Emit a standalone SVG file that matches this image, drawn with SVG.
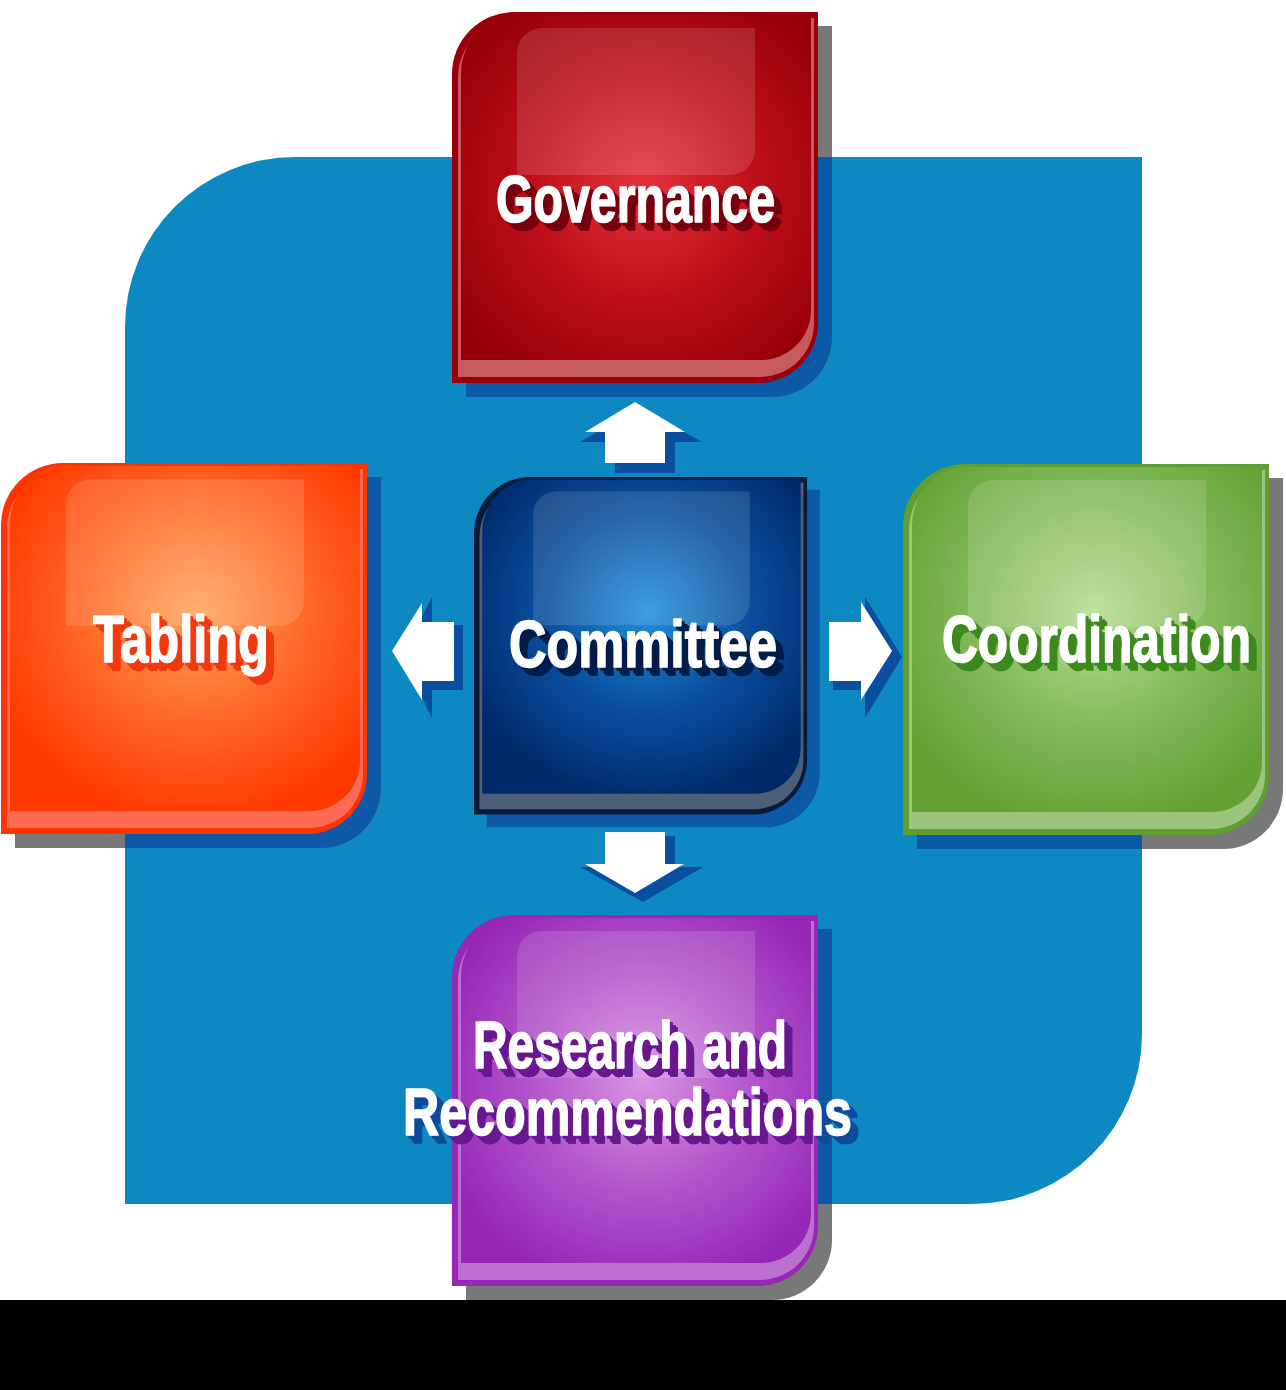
<svg xmlns="http://www.w3.org/2000/svg" xmlns:xlink="http://www.w3.org/1999/xlink" width="1286" height="1390" viewBox="0 0 1286 1390">
<style>
  .lbl { font-family: "Liberation Sans", Arial, sans-serif; font-weight: bold; font-size: 66px; fill: #ffffff; stroke: #ffffff; stroke-width: 1.6px; stroke-linejoin: round; }
  .shGray { fill: #787878; }
  .shBlue { fill: #0b59a7; }
  .hl { fill: #ffffff; fill-opacity: 0.13; }
  .arrow { fill: #ffffff; }
  .arrowSh { fill: #0a4e9f; }
</style>
<defs>
  <path id="boxOuter" d="M62,0 H366 V311 A60,60 0 0 1 306,371 H0 V62 A62,62 0 0 1 62,0 Z"/>
  <path id="boxBand" d="M66,6 H362 V313 A54,54 0 0 1 308,365 H6 V66 A60,60 0 0 1 66,6 Z"/>
  <path id="boxFace" d="M62,3 H359 V298 A50,50 0 0 1 309,348 H9 V62 A53,59 0 0 1 62,3 Z"/>
  <path id="boxHl" d="M90,16 H303 V138 A25,25 0 0 1 278,163 H65 V41 A25,25 0 0 1 90,16 Z"/>
  <clipPath id="bgClip">
    <path d="M295,157 H1142 V1034 A170,170 0 0 1 972,1204 H125 V327 A170,170 0 0 1 295,157 Z"/>
  </clipPath>
  <clipPath id="resClip">
    <path transform="translate(452,915)" d="M62,0 H366 V311 A60,60 0 0 1 306,371 H0 V62 A62,62 0 0 1 62,0 Z"/>
  </clipPath>
  <radialGradient id="gRed" cx="0.52" cy="0.5" r="0.62">
    <stop offset="0" stop-color="#e3323c"/>
    <stop offset="0.5" stop-color="#c0101a"/>
    <stop offset="1" stop-color="#980008"/>
  </radialGradient>
  <radialGradient id="gBlue" cx="0.52" cy="0.42" r="0.62">
    <stop offset="0" stop-color="#2090d8"/>
    <stop offset="0.5" stop-color="#0a4fa0"/>
    <stop offset="1" stop-color="#00296a"/>
  </radialGradient>
  <radialGradient id="gOrange" cx="0.53" cy="0.42" r="0.62">
    <stop offset="0" stop-color="#ffa45e"/>
    <stop offset="0.5" stop-color="#ff6a28"/>
    <stop offset="1" stop-color="#ff3800"/>
  </radialGradient>
  <radialGradient id="gGreen" cx="0.52" cy="0.42" r="0.62">
    <stop offset="0" stop-color="#b6dc92"/>
    <stop offset="0.5" stop-color="#88bc5e"/>
    <stop offset="1" stop-color="#64a236"/>
  </radialGradient>
  <radialGradient id="gPurple" cx="0.52" cy="0.47" r="0.62">
    <stop offset="0" stop-color="#d894e2"/>
    <stop offset="0.5" stop-color="#b456cc"/>
    <stop offset="1" stop-color="#9626b6"/>
  </radialGradient>
  <filter id="tsRed" x="-10%" y="-20%" width="130%" height="160%">
    <feOffset in="SourceAlpha" dx="3" dy="3" result="o1"/>
    <feOffset in="SourceAlpha" dx="5.5" dy="5.5" result="o2"/>
    <feOffset in="SourceAlpha" dx="8" dy="8" result="o3"/>
    <feMerge result="m"><feMergeNode in="o1"/><feMergeNode in="o2"/><feMergeNode in="o3"/></feMerge>
    <feFlood flood-color="#760008"/>
    <feComposite operator="in" in2="m"/>
  </filter>
  <filter id="tsBlue" x="-10%" y="-20%" width="130%" height="160%">
    <feOffset in="SourceAlpha" dx="3" dy="3" result="o1"/>
    <feOffset in="SourceAlpha" dx="5.5" dy="5.5" result="o2"/>
    <feOffset in="SourceAlpha" dx="8" dy="8" result="o3"/>
    <feMerge result="m"><feMergeNode in="o1"/><feMergeNode in="o2"/><feMergeNode in="o3"/></feMerge>
    <feFlood flood-color="#001a48"/>
    <feComposite operator="in" in2="m"/>
  </filter>
  <filter id="tsOrange" x="-10%" y="-20%" width="130%" height="160%">
    <feOffset in="SourceAlpha" dx="3" dy="3" result="o1"/>
    <feOffset in="SourceAlpha" dx="5.5" dy="5.5" result="o2"/>
    <feOffset in="SourceAlpha" dx="8" dy="8" result="o3"/>
    <feMerge result="m"><feMergeNode in="o1"/><feMergeNode in="o2"/><feMergeNode in="o3"/></feMerge>
    <feFlood flood-color="#f2380e"/>
    <feComposite operator="in" in2="m"/>
  </filter>
  <filter id="tsGreen" x="-10%" y="-20%" width="130%" height="160%">
    <feOffset in="SourceAlpha" dx="3" dy="3" result="o1"/>
    <feOffset in="SourceAlpha" dx="5.5" dy="5.5" result="o2"/>
    <feOffset in="SourceAlpha" dx="8" dy="8" result="o3"/>
    <feMerge result="m"><feMergeNode in="o1"/><feMergeNode in="o2"/><feMergeNode in="o3"/></feMerge>
    <feFlood flood-color="#3c8a1c"/>
    <feComposite operator="in" in2="m"/>
  </filter>
  <filter id="tsPurple" x="-10%" y="-20%" width="130%" height="160%">
    <feOffset in="SourceAlpha" dx="3" dy="3" result="o1"/>
    <feOffset in="SourceAlpha" dx="5.5" dy="5.5" result="o2"/>
    <feOffset in="SourceAlpha" dx="8" dy="8" result="o3"/>
    <feMerge result="m"><feMergeNode in="o1"/><feMergeNode in="o2"/><feMergeNode in="o3"/></feMerge>
    <feFlood flood-color="#6a1690"/>
    <feComposite operator="in" in2="m"/>
  </filter>
  <filter id="tsNavy" x="-10%" y="-20%" width="130%" height="160%">
    <feOffset in="SourceAlpha" dx="3" dy="3" result="o1"/>
    <feOffset in="SourceAlpha" dx="5.5" dy="5.5" result="o2"/>
    <feOffset in="SourceAlpha" dx="8" dy="8" result="o3"/>
    <feMerge result="m"><feMergeNode in="o1"/><feMergeNode in="o2"/><feMergeNode in="o3"/></feMerge>
    <feFlood flood-color="#0a4a9c"/>
    <feComposite operator="in" in2="m"/>
  </filter>
</defs>

<rect x="0" y="0" width="1286" height="1390" fill="#ffffff"/>

<!-- background panel -->
<path id="background" d="M295,157 H1142 V1034 A170,170 0 0 1 972,1204 H125 V327 A170,170 0 0 1 295,157 Z" fill="#0e88c0"/>

<!-- connectors -->
<g id="connectors">
  <polygon class="arrowSh" points="640,407 702,442 675,442 675,473 615,473 615,442 580,442"/>
  <polygon class="arrow" points="635,402 685,432 665,432 665,463 605,463 605,432 585,432"/>
  <polygon class="arrowSh" points="615,836 675,836 675,867 703,867 643,902 580,867 615,867"/>
  <polygon class="arrow" points="605,832 665,832 665,864 684,864 635,893 585,864 605,864"/>
  <polygon class="arrowSh" points="402,657 432,597 432,625 463,625 463,690 432,690 432,718"/>
  <polygon class="arrow" points="392,651 422,603 422,622 454,622 454,681 422,681 422,700"/>
  <polygon class="arrowSh" points="833,631 865,631 865,597 902,657 865,718 865,690 833,690"/>
  <polygon class="arrow" points="829,622 861,622 861,602 892,651 861,700 861,681 829,681"/>
</g>

<!-- Governance -->
<g id="node-governance">
  <use href="#boxOuter" class="shGray" transform="translate(466,26)"/>
  <g clip-path="url(#bgClip)"><use href="#boxOuter" class="shBlue" transform="translate(466,26)"/></g>
  <g transform="translate(452,12)">
    <use href="#boxOuter" fill="#9b000a"/>
    <use href="#boxBand" fill="#c65a5e"/>
    <use href="#boxFace" fill="url(#gRed)"/>
    <use href="#boxHl" class="hl"/>
  </g>
  <use href="#t-gov" filter="url(#tsRed)"/>
  <text id="t-gov" class="lbl" x="496" y="222" textLength="279" lengthAdjust="spacingAndGlyphs">Governance</text>
</g>

<!-- Tabling -->
<g id="node-tabling">
  <use href="#boxOuter" class="shGray" transform="translate(15,477)"/>
  <g clip-path="url(#bgClip)"><use href="#boxOuter" class="shBlue" transform="translate(15,477)"/></g>
  <g transform="translate(1,463)">
    <use href="#boxOuter" fill="#ff3300"/>
    <use href="#boxBand" fill="#ff6c56"/>
    <use href="#boxFace" fill="url(#gOrange)"/>
    <use href="#boxHl" class="hl"/>
  </g>
  <use href="#t-tab" filter="url(#tsOrange)"/>
  <text id="t-tab" class="lbl" x="93" y="662" textLength="176" lengthAdjust="spacingAndGlyphs">Tabling</text>
</g>

<!-- Coordination -->
<g id="node-coordination">
  <use href="#boxOuter" class="shGray" transform="translate(917,478)"/>
  <g clip-path="url(#bgClip)"><use href="#boxOuter" class="shBlue" transform="translate(917,478)"/></g>
  <g transform="translate(903,464)">
    <use href="#boxOuter" fill="#5f9e30"/>
    <use href="#boxBand" fill="#9cc47c"/>
    <use href="#boxFace" fill="url(#gGreen)"/>
    <use href="#boxHl" class="hl"/>
  </g>
  <use href="#t-coo" filter="url(#tsGreen)"/>
  <text id="t-coo" class="lbl" x="942" y="662" textLength="309" lengthAdjust="spacingAndGlyphs">Coordination</text>
</g>

<!-- Committee -->
<g id="node-committee">
  <g clip-path="url(#bgClip)"><use href="#boxOuter" class="shBlue" transform="translate(474,477) scale(0.91) translate(14,14)"/></g>
  <g transform="translate(474,477) scale(0.91)">
    <use href="#boxOuter" fill="#0a1b3a"/>
    <use href="#boxBand" fill="#4c5f76"/>
    <use href="#boxFace" fill="url(#gBlue)"/>
    <use href="#boxHl" class="hl"/>
  </g>
  <use href="#t-com" filter="url(#tsBlue)"/>
  <text id="t-com" class="lbl" x="509" y="667" textLength="268" lengthAdjust="spacingAndGlyphs">Committee</text>
</g>

<!-- Research and Recommendations -->
<g id="node-research">
  <use href="#boxOuter" class="shGray" transform="translate(466,929)"/>
  <g clip-path="url(#bgClip)"><use href="#boxOuter" class="shBlue" transform="translate(466,929)"/></g>
  <g transform="translate(452,915)">
    <use href="#boxOuter" fill="#9826b6"/>
    <use href="#boxBand" fill="#bb70d0"/>
    <use href="#boxFace" fill="url(#gPurple)"/>
    <use href="#boxHl" class="hl"/>
  </g>
  <use href="#t-res" filter="url(#tsNavy)"/>
  <g clip-path="url(#resClip)"><use href="#t-res" filter="url(#tsPurple)"/></g>
  <text id="t-res" class="lbl"><tspan x="473" y="1068" textLength="314" lengthAdjust="spacingAndGlyphs">Research and</tspan><tspan x="403" y="1135" textLength="449" lengthAdjust="spacingAndGlyphs">Recommendations</tspan></text>
</g>

<rect x="0" y="1300" width="1286" height="90" fill="#000000"/>
</svg>
